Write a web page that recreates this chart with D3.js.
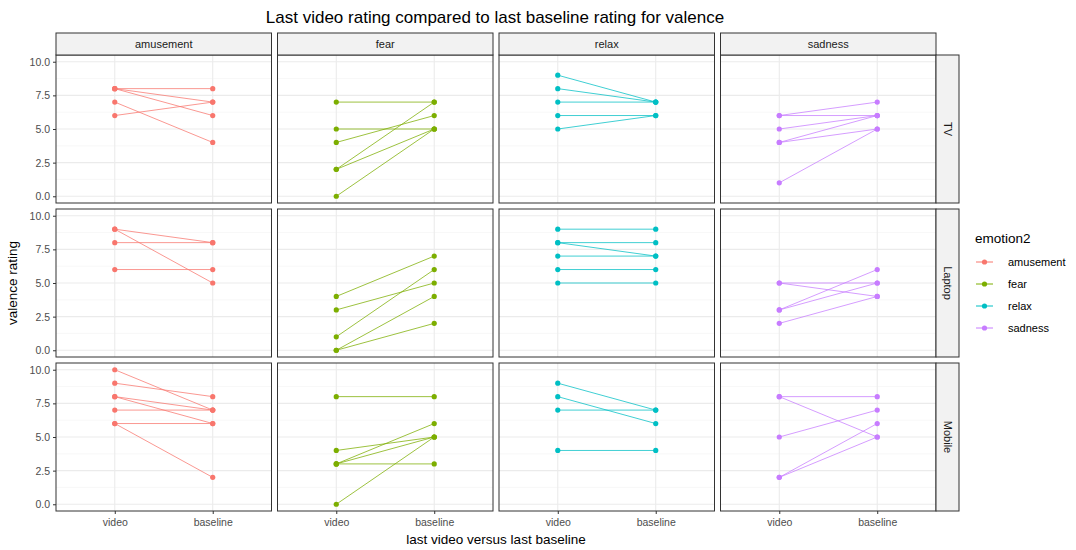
<!DOCTYPE html>
<html>
<head>
<meta charset="utf-8">
<script src="https://cdn.jsdelivr.net/npm/d3@7"></script>
<style>
  html, body { margin: 0; padding: 0; background: #fff; }
  svg { display: block; font-family: "Liberation Sans", Arial, sans-serif; }
</style>
</head>
<body>
<svg id="chart" width="1076" height="550"></svg>
<script>
// Facet levels
const emotions = ["amusement", "fear", "relax", "sadness"];
const devices = ["TV", "Laptop", "Mobile"];
const conditions = ["video", "baseline"];
const yTicks = [0, 2.5, 5, 7.5, 10];
const emotionColors = ["#F8766D", "#7CAE00", "#00BFC4", "#C77CFF"];

// [video, baseline] rating pairs, one list per emotion (same order as `emotions`)
const tvRatings = [
  [[8, 8], [8, 7], [8, 6], [7, 4], [6, 7]],
  [[7, 7], [5, 5], [4, 6], [2, 7], [2, 5], [0, 5]],
  [[9, 7], [8, 7], [7, 7], [6, 6], [5, 6]],
  [[6, 7], [6, 6], [5, 6], [4, 6], [4, 5], [1, 5]]
];
const laptopRatings = [
  [[9, 8], [9, 5], [8, 8], [6, 6]],
  [[4, 7], [3, 5], [1, 6], [0, 4], [0, 2]],
  [[9, 9], [8, 8], [8, 7], [7, 7], [6, 6], [5, 5]],
  [[5, 5], [5, 4], [3, 6], [3, 5], [2, 4]]
];
const mobileRatings = [
  [[10, 7], [9, 8], [8, 7], [8, 6], [7, 7], [6, 6], [6, 2]],
  [[8, 8], [4, 5], [3, 6], [3, 5], [3, 3], [0, 5]],
  [[9, 7], [8, 6], [7, 7], [4, 4]],
  [[8, 8], [8, 5], [5, 7], [2, 6], [2, 5]]
];
const ratingsByDevice = [tvRatings, laptopRatings, mobileRatings];

const svg = d3.select("#chart");

// Panel grid geometry
const panelLeft = 56, panelTop = 55;
const panelW = 215.5, panelH = 148;
const gapX = 6, gapY = 6;
const stripH = 22, stripW = 23;

const color = d3.scaleOrdinal().domain(emotions).range(emotionColors);

// y scale (shared by all rows): data range 0..10 with 5% expansion
const y = d3.scaleLinear().domain([-0.5, 10.5]).range([panelH, 0]);
// x: discrete positions with ggplot-style 0.6 expansion
const xPos = d3.scalePoint().domain(conditions).range([0, 1]);
const x = d3.scaleLinear().domain([-0.6, 1.6]).range([0, panelW]);
const xc = c => x(xPos(c));

const gridMajor = "#EBEBEB", gridMinor = "#F4F4F4";
const minorTicks = [1.25, 3.75, 6.25, 8.75];

// Title
svg.append("text")
  .attr("x", 495).attr("y", 23)
  .attr("text-anchor", "middle")
  .attr("font-size", 17).attr("fill", "#000")
  .text("Last video rating compared to last baseline rating for valence");

devices.forEach((dev, r) => {
  emotions.forEach((emo, c) => {
    const px = panelLeft + c * (panelW + gapX);
    const py = panelTop + r * (panelH + gapY);
    const g = svg.append("g").attr("transform", `translate(${px},${py})`);

    g.append("rect").attr("width", panelW).attr("height", panelH).attr("fill", "#fff");

    // grid
    g.selectAll(".ymin").data(minorTicks).join("line")
      .attr("x1", 0).attr("x2", panelW)
      .attr("y1", d => y(d)).attr("y2", d => y(d))
      .attr("stroke", gridMinor).attr("stroke-width", 0.6);
    g.selectAll(".ymaj").data(yTicks).join("line")
      .attr("x1", 0).attr("x2", panelW)
      .attr("y1", d => y(d)).attr("y2", d => y(d))
      .attr("stroke", gridMajor).attr("stroke-width", 1.1);
    g.selectAll(".xmaj").data(conditions).join("line")
      .attr("x1", d => xc(d)).attr("x2", d => xc(d))
      .attr("y1", 0).attr("y2", panelH)
      .attr("stroke", gridMajor).attr("stroke-width", 1.1);

    // paired lines
    const pairs = ratingsByDevice[r][c];
    g.selectAll(".pair").data(pairs).join("line")
      .attr("x1", xc("video")).attr("x2", xc("baseline"))
      .attr("y1", d => y(d[0])).attr("y2", d => y(d[1]))
      .attr("stroke", color(emo)).attr("stroke-width", 1)
      .attr("stroke-opacity", 0.75);

    // points
    const pts = pairs.flatMap(d => [["video", d[0]], ["baseline", d[1]]]);
    g.selectAll(".pt").data(pts).join("circle")
      .attr("cx", d => xc(d[0])).attr("cy", d => y(d[1]))
      .attr("r", 2.6).attr("fill", color(emo));

    // border
    g.append("rect").attr("width", panelW).attr("height", panelH)
      .attr("fill", "none").attr("stroke", "#333").attr("stroke-width", 1);

    // top strips
    if (r === 0) {
      const s = svg.append("g").attr("transform", `translate(${px},${panelTop - stripH})`);
      s.append("rect").attr("width", panelW).attr("height", stripH)
        .attr("fill", "#F2F2F2").attr("stroke", "#333").attr("stroke-width", 1);
      s.append("text").attr("x", panelW / 2).attr("y", stripH / 2 + 4)
        .attr("text-anchor", "middle").attr("font-size", 11).attr("fill", "#1A1A1A")
        .text(emo);
    }
    // right strips
    if (c === emotions.length - 1) {
      const s = svg.append("g").attr("transform", `translate(${px + panelW},${py})`);
      s.append("rect").attr("width", stripW).attr("height", panelH)
        .attr("fill", "#F2F2F2").attr("stroke", "#333").attr("stroke-width", 1);
      s.append("text")
        .attr("transform", `translate(${stripW / 2 - 4},${panelH / 2}) rotate(90)`)
        .attr("text-anchor", "middle").attr("font-size", 11).attr("fill", "#1A1A1A")
        .text(dev);
    }
    // y axis
    if (c === 0) {
      const ax = g.append("g").call(d3.axisLeft(y).tickValues(yTicks)
        .tickFormat(d3.format(".1f")).tickSize(3).tickPadding(3));
      ax.select(".domain").remove();
      ax.selectAll("line").attr("stroke", "#333");
      ax.selectAll("text").attr("font-size", 10.5).attr("fill", "#4D4D4D")
        .attr("font-family", "Liberation Sans, Arial, sans-serif");
    }
    // x axis
    if (r === devices.length - 1) {
      const ax = g.append("g").attr("transform", `translate(0,${panelH})`)
        .call(d3.axisBottom(d3.scaleOrdinal().domain(conditions).range(conditions.map(xc)))
          .tickSize(3).tickPadding(5));
      ax.select(".domain").remove();
      ax.selectAll("line").attr("stroke", "#333");
      ax.selectAll("text").attr("font-size", 10.5).attr("fill", "#4D4D4D")
        .attr("font-family", "Liberation Sans, Arial, sans-serif");
    }
  });
});

// Axis titles
const gridRight = panelLeft + emotions.length * panelW + (emotions.length - 1) * gapX;
svg.append("text")
  .attr("x", (panelLeft + gridRight) / 2).attr("y", 544)
  .attr("text-anchor", "middle").attr("font-size", 13.5).attr("fill", "#000")
  .text("last video versus last baseline");
const gridBottom = panelTop + devices.length * panelH + (devices.length - 1) * gapY;
svg.append("text")
  .attr("transform", `translate(17,${(panelTop + gridBottom) / 2}) rotate(-90)`)
  .attr("text-anchor", "middle").attr("font-size", 13.5).attr("fill", "#000")
  .text("valence rating");

// Legend
const lg = svg.append("g").attr("transform", "translate(975,231)");
lg.append("text").attr("x", 0).attr("y", 12).attr("font-size", 13.5).attr("fill", "#000")
  .text("emotion2");
const keys = lg.selectAll(".key").data(emotions).join("g")
  .attr("transform", (d, i) => `translate(0,${23 + i * 22})`);
keys.append("line").attr("x1", 1).attr("x2", 18).attr("y1", 8).attr("y2", 8)
  .attr("stroke", d => color(d)).attr("stroke-width", 1);
keys.append("circle").attr("cx", 9.5).attr("cy", 8).attr("r", 2.6).attr("fill", d => color(d));
keys.append("text").attr("x", 33).attr("y", 12).attr("font-size", 11).attr("fill", "#000")
  .text(d => d);
</script>
</body>
</html>
